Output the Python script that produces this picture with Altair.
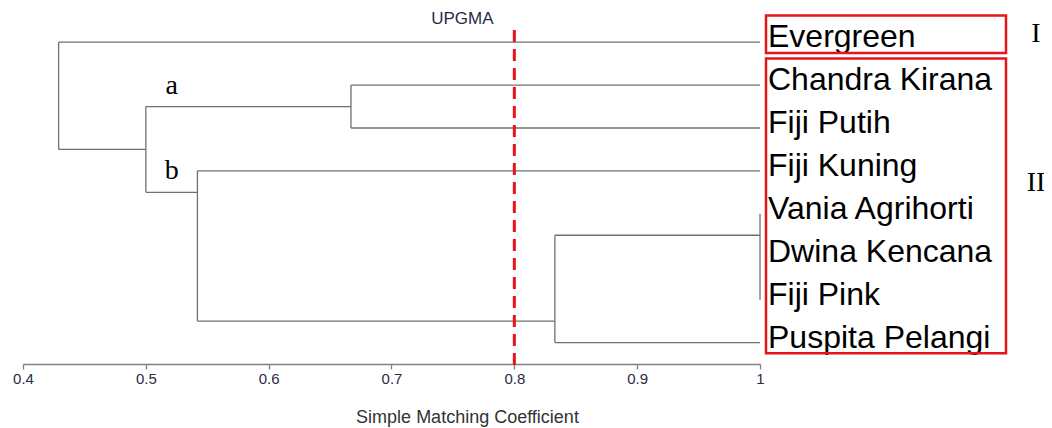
import altair as alt
import pandas as pd

# ---------------- data ----------------
leaves = ["Evergreen", "Chandra Kirana", "Fiji Putih", "Fiji Kuning",
          "Vania Agrihorti", "Dwina Kencana", "Fiji Pink", "Puspita Pelangi"]

node_names = ["c1", "c2", "b", "a", "ab", "root"]
node_sim = [1.0, 0.833, 0.542, 0.667, 0.500, 0.429]
node_row = [4.5, 6.5, 3.5, 1.5, 2.5, 1.25]
node_children = [
    ["Vania Agrihorti", "Dwina Kencana", "Fiji Pink"],
    ["c1", "Puspita Pelangi"],
    ["Fiji Kuning", "c2"],
    ["Chandra Kirana", "Fiji Putih"],
    ["a", "b"],
    ["Evergreen", "ab"],
]
branch_labels = ["a", "b"]
cutoff = 0.8
cutoff_label = "UPGMA"
groups = ["I", "II"]
group_members = [["Evergreen"], leaves[1:]]
tick_values = [0.4, 0.5, 0.6, 0.7, 0.8, 0.9, 1.0]

# ---------------- build tables ----------------
pos = {name: (1.0, i) for i, name in enumerate(leaves)}
for n, s, r in zip(node_names, node_sim, node_row):
    pos[n] = (s, r)
parent = {}
segs = []
for n, s, kids in zip(node_names, node_sim, node_children):
    rows = [pos[k][1] for k in kids]
    segs.append(dict(x=s, x2=s, y=min(rows), y2=max(rows)))
    for k in kids:
        parent[k] = n
        if pos[k][0] != s:
            segs.append(dict(x=s, x2=pos[k][0], y=pos[k][1], y2=pos[k][1]))
seg_df = pd.DataFrame(segs)

leaf_df = pd.DataFrame({"name": leaves, "x": [1.0] * len(leaves),
                        "row": list(range(len(leaves)))})

bl_df = pd.DataFrame({
    "label": branch_labels,
    "x": [pos[parent[b]][0] for b in branch_labels],
    "row": [pos[b][1] for b in branch_labels],
})

box_df = pd.DataFrame({
    "group": groups,
    "top": [leaves.index(m[0]) - 0.62 for m in group_members],
    "bottom": [leaves.index(m[-1]) + 0.25 for m in group_members],
})
numeral_rows = {"I": -0.2, "II": 3.28}
num_df = pd.DataFrame({"group": groups, "row": [numeral_rows[g] for g in groups]})

cut_df = pd.DataFrame({"x": [cutoff], "label": [cutoff_label]})

# ---------------- chart ----------------
W, H = 737, 354
xs = alt.Scale(domain=[0.4, 1.0], nice=False, zero=False)
ys = alt.Scale(domain=[-0.75, 7.5], nice=False, zero=False, reverse=True)

xaxis = alt.Axis(values=tick_values, format=".1~f", grid=False, labelFlush=False,
                 labelFont="Liberation Sans", labelFontSize=15, labelColor="#2b2b45",
                 labelPadding=2, tickSize=5, tickColor="#808080", tickWidth=1.3,
                 domainColor="#808080", domainWidth=1.3,
                 title="Simple Matching Coefficient", titleFont="Liberation Sans",
                 titleFontSize=18, titleFontWeight="normal", titleColor="#333333",
                 titleX=444, titlePadding=22)

tree = alt.Chart(seg_df).mark_rule(color="#707070", strokeWidth=1.3).encode(
    x=alt.X("x:Q", scale=xs, axis=xaxis),
    x2="x2:Q",
    y=alt.Y("y:Q", scale=ys, axis=None),
    y2="y2:Q",
)

cut = alt.Chart(cut_df).mark_rule(color="#e8141c", strokeWidth=3,
                                  strokeDash=[12, 7]).encode(
    x="x:Q", y=alt.value(20), y2=alt.value(H + 3))

cut_txt = alt.Chart(cut_df).mark_text(font="Liberation Sans", fontSize=17,
                                      color="#2a2a48", dx=-52, baseline="middle").encode(
    x="x:Q", y=alt.value(9), text="label:N")

leaf_txt = alt.Chart(leaf_df).mark_text(font="Liberation Sans", fontSize=32,
                                        color="#000000", align="left",
                                        baseline="alphabetic", dx=8, dy=5).encode(
    x="x:Q", y="row:Q", text="name:N")

bl_txt = alt.Chart(bl_df).mark_text(font="Liberation Serif", fontSize=28,
                                    color="#000000", align="center",
                                    baseline="alphabetic", dx=26, dy=-13).encode(
    x="x:Q", y="row:Q", text="label:N")

boxes = alt.Chart(box_df).mark_rect(fillOpacity=0, stroke="#e8141c",
                                    strokeWidth=2.5).encode(
    x=alt.value(743), x2=alt.value(983), y="top:Q", y2="bottom:Q")

nums = alt.Chart(num_df).mark_text(font="Liberation Serif", fontSize=28,
                                   color="#000000", align="center",
                                   baseline="middle").encode(
    x=alt.value(1013), y="row:Q", text="group:N")

chart = alt.layer(tree, cut, cut_txt, leaf_txt, bl_txt, boxes, nums).properties(
    width=W, height=H,
    autosize=alt.AutoSizeParams(type="none"),
    padding={"left": 15, "top": 2, "right": 284, "bottom": 66},
).configure(
    background="white",
    view=alt.ViewConfig(strokeWidth=0, stroke="transparent"),
)

chart.save("out.html", embed_options={"renderer": "svg", "actions": False})
